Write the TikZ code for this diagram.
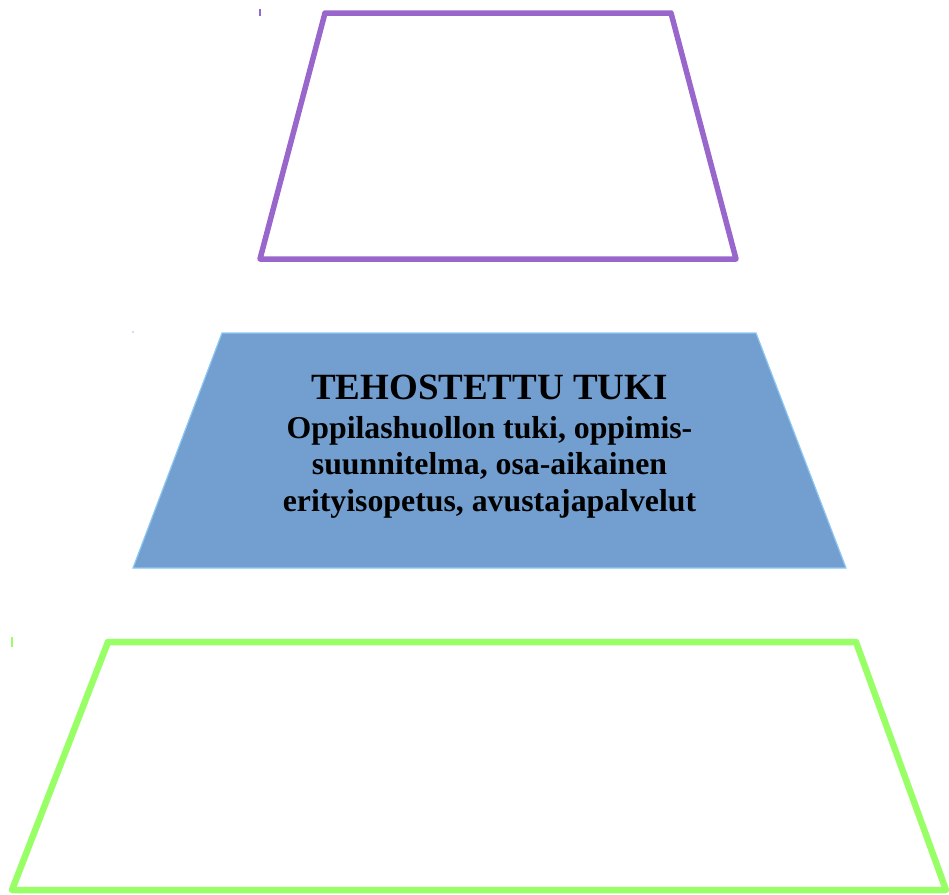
\documentclass[tikz,border=0pt]{standalone}
\usepackage{fontspec}
\setmainfont{Liberation Serif}

\begin{document}
\begin{tikzpicture}[x=1pt,y=-1pt]
    \definecolor{lvl_purple}{HTML}{9966cc}
    \definecolor{lvl_blue}{HTML}{729fcf}
    \definecolor{lvl_edge}{HTML}{8cc8f2}
    \definecolor{lvl_green}{HTML}{99ff66}
    \useasboundingbox (0,0) rectangle (949,894);
    %\draw[help lines] (0,0) grid[step=50] (949,894);
    \draw[lvl_purple, line width=5.5, line join=round] (325,13) -- (671,13) -- (736,259) -- (260,259) -- cycle;
    \draw[lvl_purple, line width=1.5] (260,9) -- (260,16);
    \path[fill=lvl_blue, draw=lvl_edge, line width=1.2] (222,333) -- (756,333) -- (846,568) -- (133,568) -- cycle;
    \path[fill=lvl_edge] (133,332) circle (0.8);
    \draw[lvl_green, line width=6.5, line join=round] (108,642) -- (856,642) -- (946,890) -- (12,890) -- cycle;
    \draw[lvl_green, line width=1.5] (12,637) -- (12,647);

    \node[anchor=base, font=\bfseries\fontsize{37}{40}\selectfont] (title) at (489.5,399) {TEHOSTETTU TUKI};
    \node[anchor=north, align=center, font=\bfseries\fontsize{31.8}{36.5}\selectfont, inner sep=0] (body) at (489.5,416) {
        Oppilashuollon tuki, oppimis-\\
        suunnitelma, osa-aikainen\\
        erityisopetus, avustajapalvelut
    };
\end{tikzpicture}
\end{document}
